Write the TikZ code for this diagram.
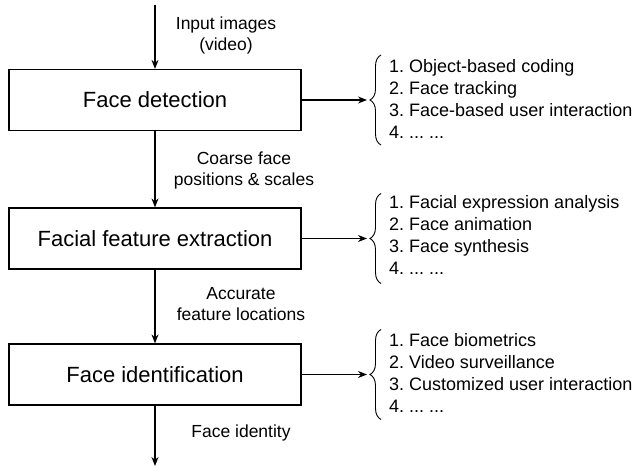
\documentclass[tikz,border=0pt]{standalone}
\usepackage{fontspec}
\setmainfont{Liberation Sans}
\usetikzlibrary{arrows.meta,decorations.pathreplacing}
\frenchspacing
\begin{document}
\begin{tikzpicture}[x=1pt,y=-1pt,
  stagebox/.style={draw, line width=1.2pt, minimum width=292pt, minimum height=61pt, inner sep=0pt, font=\fontsize{22}{26}\selectfont},
  lbl/.style={align=center, font=\fontsize{17.5}{21}\selectfont},
  lst/.style={align=left, anchor=west, inner sep=0pt, font=\fontsize{18}{22}\selectfont},
  arr/.style={line width=1.2pt, -{Stealth[length=9pt,width=7pt]}},
  brc/.style={decorate, line width=0.9pt, decoration={brace, amplitude=11pt}}
]
\useasboundingbox (0,0) rectangle (640,468);
\node[stagebox] (b1) at (155,100) {Face detection};
\node[stagebox] (b2) at (155,238.5) {Facial feature extraction};
\node[stagebox] (b3) at (155,374.5) {Face identification};
\coordinate (top) at (155,5);
\coordinate (bot) at (155,466);
\draw[arr] (top) -- (b1.north);
\draw[arr] (b1.south) -- (b2.north);
\draw[arr] (b2.south) -- (b3.north);
\draw[arr] (b3.south) -- (bot);
\node[lbl] (l1) at (226,35) {Input images\\(video)};
\node[lbl] (l2) at (244,170) {Coarse face\\positions \& scales};
\node[lbl] (l3) at (241,304) {Accurate\\feature locations};
\node[lbl] (l4) at (241,433) {Face identity};
% lists
\coordinate (t1) at (367,100);
\coordinate (t2) at (367,238.5);
\coordinate (t3) at (367,374.5);
\draw[arr] (b1.east) -- (t1);
\draw[arr] (b2.east) -- (t2);
\draw[arr] (b3.east) -- (t3);
\coordinate (s1a) at (381,145); \coordinate (s1b) at (381,55);
\coordinate (s2a) at (381,283.5); \coordinate (s2b) at (381,193.5);
\coordinate (s3a) at (381,419.5); \coordinate (s3b) at (381,329.5);
\draw[brc] (s1a) -- (s1b);
\draw[brc] (s2a) -- (s2b);
\draw[brc] (s3a) -- (s3b);
\node[lst] (L1) at (389,99) {1. Object-based coding\\2. Face tracking\\3. Face-based user interaction\\4. ... ...};
\node[lst] (L2) at (389,235) {1. Facial expression analysis\\2. Face animation\\3. Face synthesis\\4. ... ...};
\node[lst] (L3) at (389,373) {1. Face biometrics\\2. Video surveillance\\3. Customized user interaction\\4. ... ...};
\end{tikzpicture}
\end{document}
